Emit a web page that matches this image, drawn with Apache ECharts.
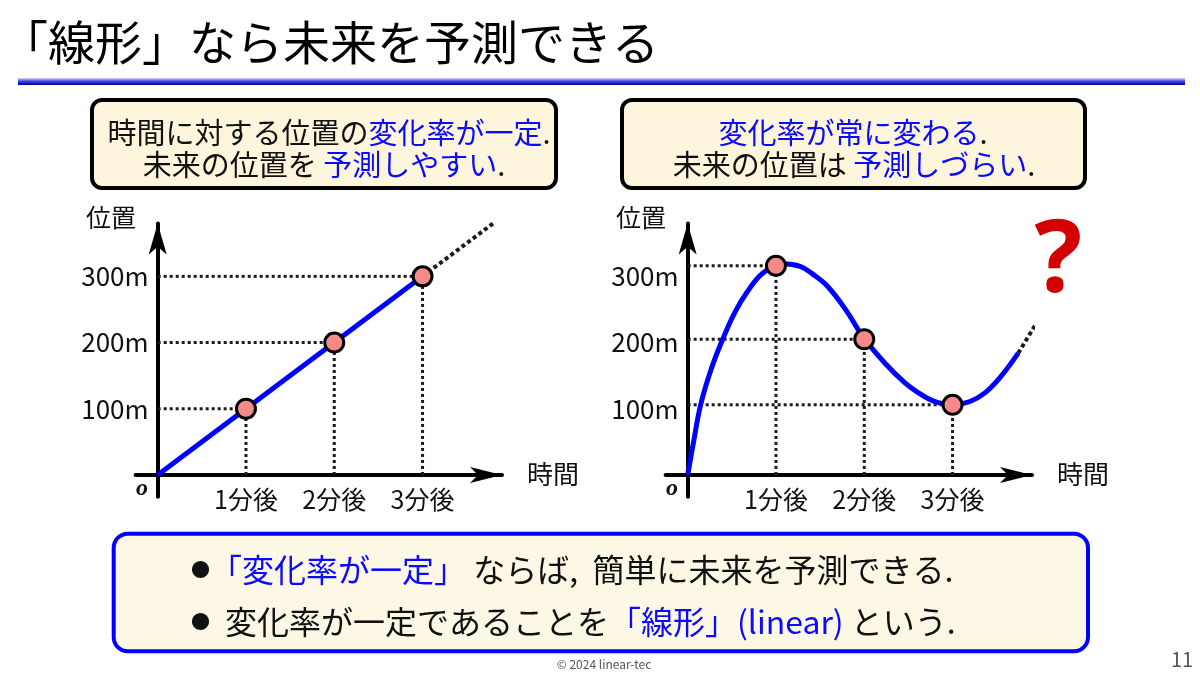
<!DOCTYPE html>
<html><head><meta charset="utf-8">
<script src="https://cdn.jsdelivr.net/npm/echarts@6/dist/echarts.min.js"></script>
<style>html,body{margin:0;padding:0;background:#fff}#c{width:1200px;height:676px}</style>
</head><body><div id="c"></div>
<script>
// ---- data ----
const xTickValues = [1, 2, 3];
const xTickLabels = ['1分後', '2分後', '3分後'];
const yTickValues = [100, 200, 300];
const yTickLabels = ['100m', '200m', '300m'];

const linearLine = [[0, 0], [1, 100], [2, 200], [3, 300]];
const linearPoints = [[1, 100], [2, 200], [3, 300]];
const linearFuture = [[3, 300], [3.82, 382]];

const curveLine = [[0, 0], [0.071, 53], [0.147, 106], [0.264, 159], [0.403, 207], [0.536, 246], [0.672, 276], [0.853, 305], [1.082, 319], [1.274, 315], [1.421, 303], [1.591, 284], [1.793, 249], [2.0, 206], [2.254, 166], [2.461, 139], [2.593, 126], [2.778, 112], [3.0, 106], [3.197, 111], [3.367, 124], [3.537, 147], [3.744, 184]];
const curvePoints = [[1, 316], [2, 205], [3, 106]];
const curveFuture = [[3.744, 184], [4.03, 247]];

// ---- chart ----
const FF = '"Noto Sans CJK JP", "Noto Sans", sans-serif';
const chart = echarts.init(document.getElementById('c'));

function xAxisFor(g) {
  return {
    type: 'value', gridIndex: g, min: -0.25, max: 3.9,
    axisLine: { show: true, onZero: true, symbol: ['none', 'arrow'], symbolSize: [12, 32], lineStyle: { color: '#000', width: 4 } },
    axisTick: { show: false }, splitLine: { show: false },
    axisLabel: {
      customValues: xTickValues, margin: -10, fontSize: 25, color: '#111', fontFamily: FF,
      formatter: v => { const i = xTickValues.indexOf(v); return i >= 0 ? xTickLabels[i] : ''; }
    }
  };
}
function yAxisFor(g) {
  return {
    type: 'value', gridIndex: g, min: -33, max: 380,
    axisLine: { show: true, onZero: true, symbol: ['none', 'arrow'], symbolSize: [13.5, 31], lineStyle: { color: '#000', width: 4 } },
    axisTick: { show: false }, splitLine: { show: false },
    axisLabel: {
      customValues: yTickValues, margin: -13, fontSize: 26, color: '#111', fontFamily: FF, padding: [0, 0, 8, 0],
      formatter: v => { const i = yTickValues.indexOf(v); return i >= 0 ? yTickLabels[i] : ''; }
    }
  };
}
function guideSeries(g, points) {
  const out = [];
  points.forEach(p => {
    [[[0, p[1]], [p[0], p[1]]], [[p[0], 0], [p[0], p[1]]]].forEach(seg => {
      out.push({
        type: 'line', xAxisIndex: g, yAxisIndex: g, data: seg, showSymbol: false, z: 1, silent: true,
        lineStyle: { color: '#1a1a1a', width: 3, type: [3, 3], cap: 'butt' }
      });
    });
  });
  return out;
}
function pointSeries(g, pts) {
  return {
    type: 'scatter', xAxisIndex: g, yAxisIndex: g, data: pts, z: 5,
    symbol: 'circle', symbolSize: 19,
    itemStyle: { color: '#f58a88', borderColor: '#000', borderWidth: 3, opacity: 1 }
  };
}
function futureSeries(g, data) {
  return {
    type: 'line', xAxisIndex: g, yAxisIndex: g, data: data, showSymbol: false, clip: false, z: 3,
    lineStyle: { color: '#1a1a1a', width: 4, type: [4, 3] }
  };
}

function rt(x, y, text, align, size, extra) {
  const rich = {
    k: { fill: '#111', fontSize: size, fontFamily: FF },
    b: { fill: '#0a0aff', fontSize: size, fontFamily: FF }
  };
  Object.assign(rich, extra || {});
  return {
    type: 'text', z: 100,
    style: { x: x, y: y, text: text, align: align || 'center', verticalAlign: 'middle', fontSize: size, fontFamily: FF, rich: rich }
  };
}

const option = {
  animation: false,
  backgroundColor: '#fff',
  grid: [
    { left: 135.6, top: 223.4, width: 366.4, height: 273.4 },
    { left: 665.6, top: 223.4, width: 366.4, height: 273.4 }
  ],
  xAxis: [xAxisFor(0), xAxisFor(1)],
  yAxis: [yAxisFor(0), yAxisFor(1)],
  series: [
    { type: 'line', xAxisIndex: 0, yAxisIndex: 0, data: linearLine, showSymbol: false, clip: false, z: 4,
      lineStyle: { color: '#0000ff', width: 5 } },
    futureSeries(0, linearFuture),
    pointSeries(0, linearPoints),
    { type: 'line', xAxisIndex: 1, yAxisIndex: 1, data: curveLine, showSymbol: false, clip: false, z: 4, smooth: 0.4,
      lineStyle: { color: '#0000ff', width: 5 } },
    futureSeries(1, curveFuture),
    pointSeries(1, curvePoints)
  ].concat(guideSeries(0, linearPoints), guideSeries(1, curvePoints)),
  graphic: [
    { type: 'text', style: { x: 1, y: 42, text: '「線形」なら未来を予測できる', fontSize: 47, fontFamily: FF, fill: '#000', align: 'left', verticalAlign: 'middle' } },
    { type: 'rect', shape: { x: 18, y: 78, width: 1167, height: 7 },
      style: { fill: new echarts.graphic.LinearGradient(0, 0, 0, 1, [
        { offset: 0, color: '#d8d8ff' }, { offset: 0.5, color: '#3a3ae8' }, { offset: 1, color: '#00008a' }]) } },

    { type: 'rect', shape: { x: 92, y: 100, width: 464, height: 88, r: 10 }, style: { fill: '#fdf5dc', stroke: '#000', lineWidth: 4 } },
    rt(329, 133, '{k|時間に対する位置の}{b|変化率が一定}{k|.}', 'center', 29),
    rt(324, 165, '{k|未来の位置を }{b|予測しやすい}{k|.}', 'center', 29),

    { type: 'rect', shape: { x: 622, y: 100, width: 463, height: 88, r: 10 }, style: { fill: '#fdf5dc', stroke: '#000', lineWidth: 4 } },
    rt(853, 133, '{b|変化率が常に変わる}{k|.}', 'center', 29),
    rt(854, 165, '{k|未来の位置は }{b|予測しづらい}{k|.}', 'center', 29),

    { type: 'text', style: { x: 111, y: 217, text: '位置', fontSize: 25, fontFamily: FF, fill: '#111', align: 'center', verticalAlign: 'middle' } },
    { type: 'text', style: { x: 641, y: 217, text: '位置', fontSize: 25, fontFamily: FF, fill: '#111', align: 'center', verticalAlign: 'middle' } },
    { type: 'text', style: { x: 527, y: 474, text: '時間', fontSize: 26, fontFamily: FF, fill: '#111', align: 'left', verticalAlign: 'middle' } },
    { type: 'text', style: { x: 1057, y: 474, text: '時間', fontSize: 26, fontFamily: FF, fill: '#111', align: 'left', verticalAlign: 'middle' } },
    { type: 'text', style: { x: 142, y: 489, text: 'o', fontSize: 24, fontStyle: 'italic', fontWeight: 'bold', fontFamily: '"Liberation Serif", serif', fill: '#111', align: 'center', verticalAlign: 'middle' } },
    { type: 'text', style: { x: 672, y: 489, text: 'o', fontSize: 24, fontStyle: 'italic', fontWeight: 'bold', fontFamily: '"Liberation Serif", serif', fill: '#111', align: 'center', verticalAlign: 'middle' } },
    { type: 'text', style: { x: 1058, y: 264, text: '?', fontSize: 100, fontWeight: 'bold', fontFamily: '"Noto Sans", sans-serif', fill: '#d40000', align: 'center', verticalAlign: 'middle' } },

    { type: 'rect', shape: { x: 113.7, y: 533.7, width: 974.3, height: 117.6, r: 14 }, style: { fill: '#fdf8e6', stroke: '#0000ff', lineWidth: 4 } },
    rt(191, 570, '{c|●}{b|「変化率が一定」}{k| ならば,  簡単に未来を予測できる.}', 'left', 32,
       { c: { fill: '#111', fontSize: 19, fontFamily: FF, width: 19 } }),
    rt(191, 622, '{c|●}{k|変化率が一定であることを}{b|「線形」(linear)}{k| という.}', 'left', 32,
       { c: { fill: '#111', fontSize: 19, fontFamily: FF, width: 34 } }),

    { type: 'text', style: { x: 604, y: 664, text: '© 2024 linear-tec', fontSize: 12, fontFamily: FF, fill: '#555', align: 'center', verticalAlign: 'middle' } },
    { type: 'text', style: { x: 1182, y: 659, text: '11', fontSize: 20, fontFamily: FF, fill: '#555', align: 'center', verticalAlign: 'middle' } }
  ]
};
chart.setOption(option);
</script></body></html>
